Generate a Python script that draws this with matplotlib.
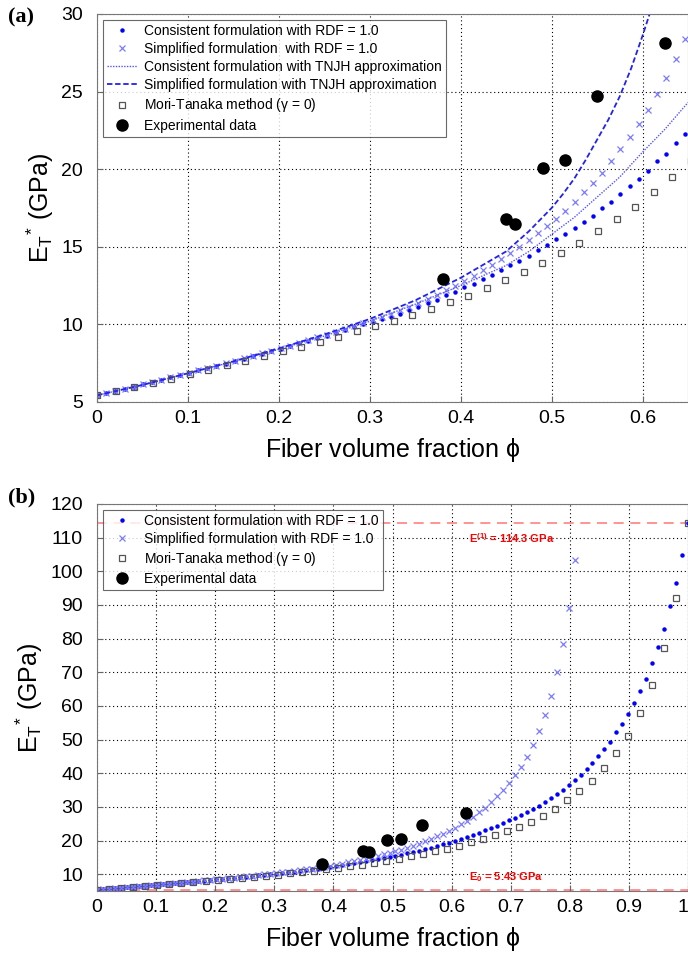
import numpy as np
import matplotlib.pyplot as plt

plt.rcParams['font.family'] = ['Liberation Sans', 'DejaVu Sans']
plt.rcParams['mathtext.fontset'] = 'custom'
plt.rcParams['mathtext.rm'] = 'Liberation Sans'
plt.rcParams['mathtext.it'] = 'Liberation Sans'

# consistent formulation, RDF = 1.0 (100 points, phi = i/99)
phi_dense = np.linspace(0, 1, 100)
consistent_rdf = [
    5.43, 5.57, 5.71, 5.85, 5.99, 6.13, 6.28, 6.43, 6.58, 6.73,
    6.88, 7.03, 7.18, 7.33, 7.48, 7.64, 7.80, 7.96, 8.12, 8.28,
    8.44, 8.60, 8.77, 8.94, 9.11, 9.28, 9.46, 9.64, 9.82, 10.0,
    10.18, 10.36, 10.5, 10.7, 10.9, 11.15, 11.4, 11.6, 11.9, 12.1,
    12.4, 12.6, 12.9, 13.2, 13.5, 13.8, 14.1, 14.4, 14.8, 15.1,
    15.5, 15.8, 16.2, 16.6, 17.0, 17.5, 17.9, 18.4, 18.9, 19.4,
    19.9, 20.5, 21.0, 21.7, 22.3, 23.0, 23.7, 24.4, 25.2, 26.0,
    26.8, 27.6, 28.5, 29.4, 30.4, 31.4, 32.5, 33.7, 35.0, 36.4,
    37.9, 39.6, 41.2, 43.1, 45.1, 47.1, 49.3, 52.1, 54.6, 57.5,
    61.0, 64.4, 68.1, 72.7, 77.5, 83.0, 89.6, 96.5, 104.7, 114.3,
]
# simplified formulation, RDF = 1.0 (first 81 points of the same grid)
simplified_rdf = [
    5.43, 5.57, 5.71, 5.85, 5.99, 6.13, 6.28, 6.43, 6.58, 6.73,
    6.89, 7.04, 7.19, 7.34, 7.50, 7.66, 7.82, 7.98, 8.14, 8.31,
    8.47, 8.63, 8.81, 8.98, 9.16, 9.34, 9.53, 9.72, 9.92, 10.1,
    10.3, 10.5, 10.7, 10.9, 11.15, 11.4, 11.65, 11.9, 12.2, 12.5,
    12.8, 13.1, 13.5, 13.8, 14.2, 14.6, 15.0, 15.45, 15.9, 16.35,
    16.8, 17.3, 17.9, 18.5, 19.1, 19.75, 20.5, 21.3, 22.05, 22.9,
    23.8, 24.85, 25.9, 27.1, 28.4, 29.8, 31.4, 33.1, 35.0, 37.1,
    39.4, 41.9, 44.8, 48.3, 52.4, 57.2, 63.0, 70.0, 78.5, 89.2,
    103.4,
]
# Mori-Tanaka (50 points, phi = k/49)
phi_mt = np.linspace(0, 1, 50)
mori_tanaka = [
    5.43, 5.70, 5.97, 6.24, 6.51, 6.79, 7.07, 7.36, 7.65, 7.95,
    8.26, 8.57, 8.89, 9.22, 9.56, 9.89, 10.23, 10.6, 11.0, 11.43,
    11.86, 12.33, 12.87, 13.39, 13.97, 14.59, 15.26, 16.01, 16.79, 17.58,
    18.5, 19.47, 20.5, 21.6, 22.8, 24.1, 25.6, 27.4, 29.5, 31.9,
    34.7, 37.8, 41.5, 46.0, 51.0, 57.8, 66.1, 77.1, 92.2, 114.3,
]
# TNJH approximation curves (panel a only)
phi_tnjh = [0, 0.05, 0.1, 0.15, 0.2, 0.25, 0.3, 0.35, 0.4, 0.45, 0.475,
            0.5, 0.525, 0.55, 0.575, 0.6, 0.625, 0.65]
consistent_tnjh = [5.43, 6.1, 6.85, 7.6, 8.4, 9.25, 10.2, 11.3, 12.5, 13.8, 14.7,
                   15.8, 16.9, 18.2, 19.5, 21.1, 22.6, 24.3]
phi_tnjh_s = [0, 0.05, 0.1, 0.15, 0.2, 0.25, 0.3, 0.35, 0.4, 0.45, 0.475,
              0.5, 0.5125, 0.525, 0.5375, 0.55, 0.5625, 0.575, 0.5875, 0.6, 0.61]
simplified_tnjh = [5.43, 6.1, 6.85, 7.62, 8.45, 9.35, 10.35, 11.55, 13.0, 14.7, 16.0,
                   17.5, 18.4, 19.4, 20.6, 21.9, 23.2, 24.7, 26.5, 28.6, 30.4]
# experimental data
phi_exp = [0.38, 0.45, 0.46, 0.49, 0.515, 0.55, 0.625]
e_exp = [12.9, 16.8, 16.5, 20.1, 20.6, 24.7, 28.1]

E0 = 5.43
E1 = 114.3

fig = plt.figure(figsize=(6.88, 9.56), dpi=100)
ax_a = fig.add_axes([97 / 688, 554 / 956, 591 / 688, 388 / 956])
ax_b = fig.add_axes([97 / 688, 65 / 956, 591 / 688, 387 / 956])

dot_kw = dict(ls='none', marker='o', ms=2.2, color='#0000ff', mec='#0000ff')
cross_kw = dict(ls='none', marker='x', ms=5, mew=0.9, color='#7b7bff')
sq_kw = dict(ls='none', marker='s', ms=5, mfc='none', mec='#555555', mew=0.9)
exp_kw = dict(ls='none', marker='o', ms=8, color='black')

for ax in (ax_a, ax_b):
    ax.grid(True, color='black', ls=(0, (1, 2.5)), lw=0.8)
    ax.tick_params(direction='in', labelsize=14, length=4, color='#666666')
    ax.tick_params(axis='x', pad=6)
    ax.tick_params(axis='y', pad=10)
    for s in ax.spines.values():
        s.set_color('#777777')
    ax.set_xlabel('Fiber volume fraction $\\phi$', fontsize=18, labelpad=6)
    ax.set_ylabel('E$_\\mathregular{T}$$^\\mathregular{*}$ (GPa)', fontsize=18, labelpad=4)

# panel (a)
ax_a.plot(phi_dense, consistent_rdf, label='Consistent formulation with RDF = 1.0', **dot_kw)
ax_a.plot(phi_dense[:len(simplified_rdf)], simplified_rdf,
          label='Simplified formulation  with RDF = 1.0', **cross_kw)
ax_a.plot(phi_tnjh, consistent_tnjh, ls=(0, (1, 1)), lw=1.0, color='#5555ff',
          label='Consistent formulation with TNJH approximation')
ax_a.plot(phi_tnjh_s, simplified_tnjh, ls=(0, (3, 1.5)), lw=1.3, color='#2222ee',
          label='Simplified formulation with TNJH approximation')
ax_a.plot(phi_mt, mori_tanaka, label='Mori-Tanaka method ($\\gamma$ = 0)', **sq_kw)
ax_a.plot(phi_exp, e_exp, label='Experimental data', **exp_kw)
ax_a.set_xlim(0, 0.65)
ax_a.set_ylim(5, 30)
ax_a.set_xticks(np.arange(0, 0.61, 0.1))
ax_a.set_xticklabels(['0', '0.1', '0.2', '0.3', '0.4', '0.5', '0.6'])
ax_a.set_yticks([5, 10, 15, 20, 25, 30])
leg = ax_a.legend(loc='upper left', fontsize=10, frameon=True, fancybox=False,
                  edgecolor='#444444', handlelength=2.2, borderpad=0.3,
                  labelspacing=0.3, handletextpad=0.5, borderaxespad=0.4)
leg.get_frame().set_linewidth(0.8)
fig.text(8 / 688, 1 - 17 / 956, '(a)', fontsize=16, fontweight='bold',
         family='Liberation Serif', va='center')

# panel (b)
ax_b.axhline(E1, color='#ff8080', ls=(0, (6, 4)), lw=1.2, zorder=1)
ax_b.axhline(E0, color='#ff8080', ls=(0, (6, 4)), lw=1.2, zorder=1)
ax_b.plot(phi_dense, consistent_rdf, label='Consistent formulation with RDF = 1.0', **dot_kw)
ax_b.plot(phi_dense[:len(simplified_rdf)], simplified_rdf,
          label='Simplified formulation with RDF = 1.0', **cross_kw)
ax_b.plot(phi_mt, mori_tanaka, label='Mori-Tanaka method ($\\gamma$ = 0)', **sq_kw)
ax_b.plot(phi_exp, e_exp, label='Experimental data', **exp_kw)
ax_b.text(0.63, 110, 'E$^\\mathregular{(1)}$ = 114.3 GPa', color='red', fontsize=8,
          fontweight='bold', va='center')
ax_b.text(0.63, 9.2, 'E$_\\mathregular{0}$ = 5.43 GPa', color='red', fontsize=8,
          fontweight='bold', va='center')
ax_b.set_xlim(0, 1)
ax_b.set_ylim(5, 120)
ax_b.set_xticks(np.arange(0, 1.01, 0.1))
ax_b.set_xticklabels(['0', '0.1', '0.2', '0.3', '0.4', '0.5', '0.6', '0.7', '0.8', '0.9', '1'])
ax_b.get_xticklabels()[-1].set_horizontalalignment('right')
ax_b.set_yticks(np.arange(10, 121, 10))
leg = ax_b.legend(loc='upper left', fontsize=10, frameon=True, fancybox=False,
                  edgecolor='#444444', handlelength=2.2, borderpad=0.3,
                  labelspacing=0.3, handletextpad=0.5, borderaxespad=0.4)
leg.get_frame().set_linewidth(0.8)
fig.text(8 / 688, 1 - 497 / 956, '(b)', fontsize=16, fontweight='bold',
         family='Liberation Serif', va='center')

fig.savefig('out.png', dpi=100)
